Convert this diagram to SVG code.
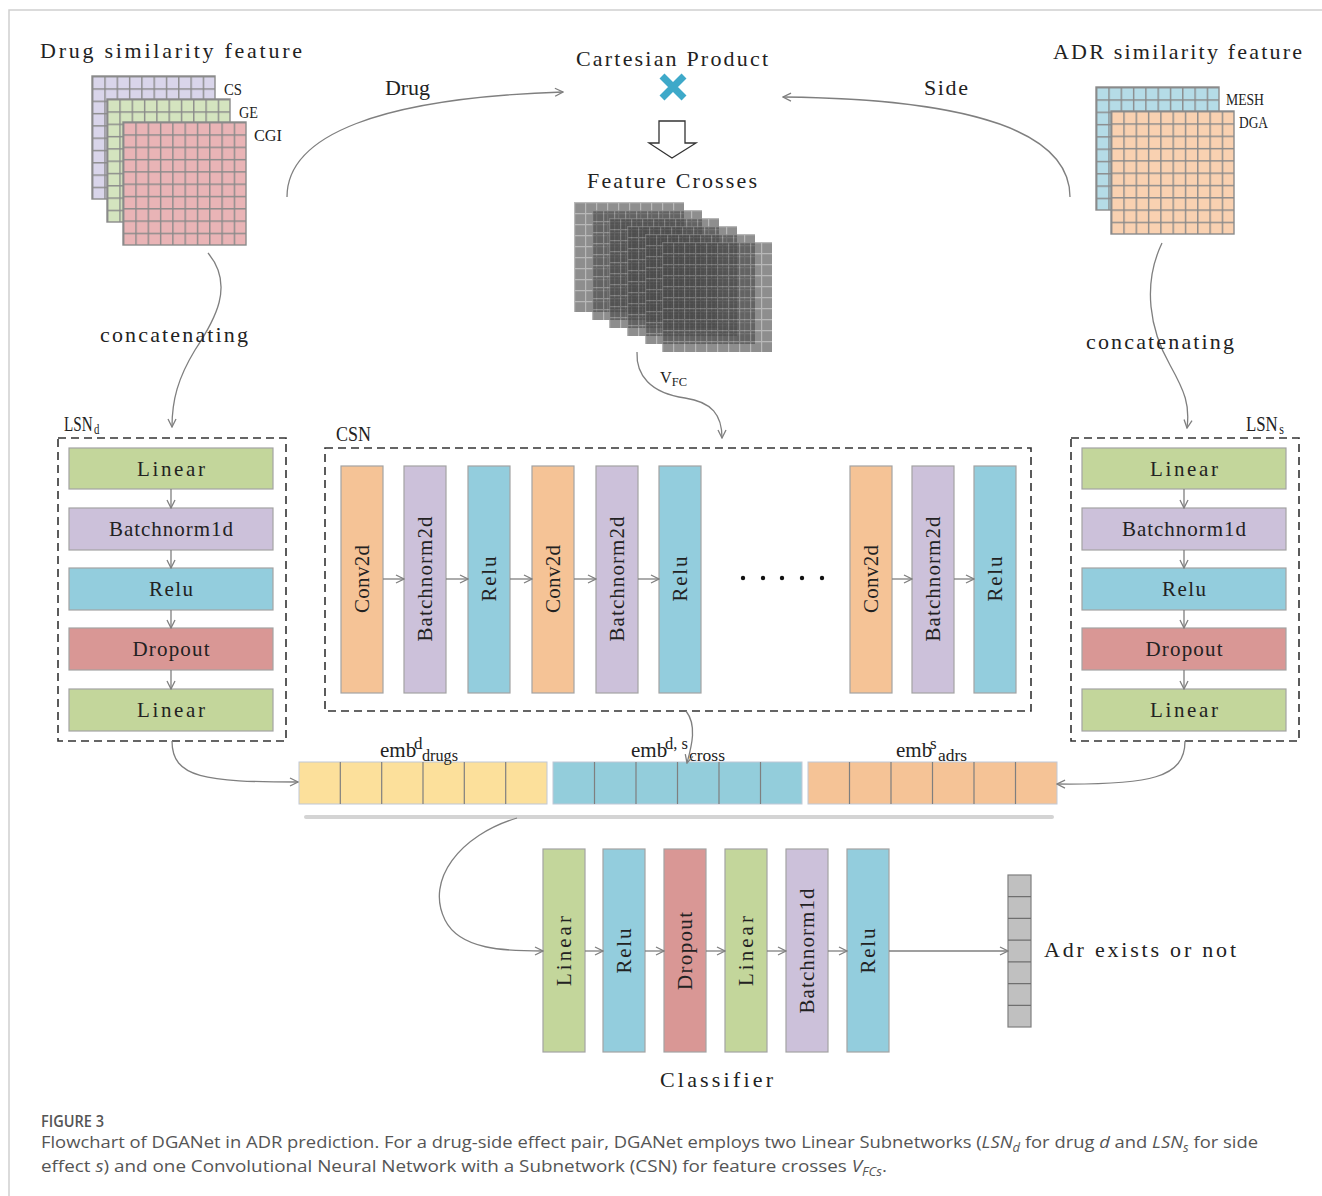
<svg xmlns="http://www.w3.org/2000/svg" width="1322" height="1196" viewBox="0 0 1322 1196">
<style>
.t{font-family:"Liberation Serif",serif;font-size:21px;fill:#222}
.ti{font-family:"Liberation Serif",serif;font-size:22px;fill:#222}
.s{font-family:"Liberation Serif",serif;font-size:17px;fill:#222}
.m{text-anchor:middle}
.bx{stroke:#a3a3a3;stroke-width:1.2}
.gr{fill:#c3d69b}.pu{fill:#ccc1da}.bl{fill:#93cddd}.rd{fill:#d99795}.or{fill:#f5c396}
.c{fill:none;stroke:#7f7f7f;stroke-width:1.3;marker-end:url(#arr)}
.dash{fill:none;stroke:#333;stroke-width:1.6;stroke-dasharray:8,5}
.cap{font-family:"Open Sans",sans-serif;font-size:17px;fill:#555}
</style>
<defs>
<marker id="arr" viewBox="0 0 10 10" refX="9" refY="5" markerWidth="10" markerHeight="10" markerUnits="userSpaceOnUse" orient="auto">
<path d="M1,1 L9,5 L1,9" fill="none" stroke="#7f7f7f" stroke-width="1.3"/>
</marker>
<pattern id="c12" width="12.3" height="12.3" patternUnits="userSpaceOnUse">
<path d="M0.7,0 V12.3 M0,0.7 H12.3" stroke="#8a8a8a" stroke-width="1.4" fill="none"/>
</pattern>
<pattern id="c11" width="11" height="11" patternUnits="userSpaceOnUse">
<path d="M0.6,0 V11 M0,0.6 H11" stroke="#8e8e8e" stroke-width="1.2" fill="none"/>
</pattern>
</defs>

<path d="M9,1196 V10 H1322" fill="none" stroke="#cfcfcf" stroke-width="1.5"/>

<!-- Drug similarity feature -->
<g id="drug-features">
<text class="ti" x="40" y="58" textLength="262" lengthAdjust="spacing">Drug similarity feature</text>
<g transform="translate(92,76)"><rect width="123" height="123" fill="#d9d5ea"/><rect width="123" height="123" fill="url(#c12)"/><rect width="123" height="123" fill="none" stroke="#8a8a8a" stroke-width="1.4"/></g>
<g transform="translate(107,99)"><rect width="123" height="123" fill="#d4e4bf"/><rect width="123" height="123" fill="url(#c12)"/><rect width="123" height="123" fill="none" stroke="#8a8a8a" stroke-width="1.4"/></g>
<g transform="translate(123,122)"><rect width="123" height="123" fill="#e9b4b6"/><rect width="123" height="123" fill="url(#c12)"/><rect width="123" height="123" fill="none" stroke="#8a8a8a" stroke-width="1.4"/></g>
<text class="s" x="224" y="95" textLength="18" lengthAdjust="spacingAndGlyphs">CS</text>
<text class="s" x="239" y="118" textLength="19" lengthAdjust="spacingAndGlyphs">GE</text>
<text class="s" x="254" y="141" textLength="28" lengthAdjust="spacingAndGlyphs">CGI</text>
</g>

<!-- ADR similarity feature -->
<g id="adr-features">
<text class="ti" x="1053" y="59" textLength="249" lengthAdjust="spacing">ADR similarity feature</text>
<g transform="translate(1096,87)"><rect width="123" height="123" fill="#b5dce7"/><rect width="123" height="123" fill="url(#c12)"/><rect width="123" height="123" fill="none" stroke="#8a8a8a" stroke-width="1.4"/></g>
<g transform="translate(1111,111)"><rect width="123" height="123" fill="#f9d1b1"/><rect width="123" height="123" fill="url(#c12)"/><rect width="123" height="123" fill="none" stroke="#8a8a8a" stroke-width="1.4"/></g>
<text class="s" x="1226" y="105" textLength="38" lengthAdjust="spacingAndGlyphs">MESH</text>
<text class="s" x="1239" y="128" textLength="29" lengthAdjust="spacingAndGlyphs">DGA</text>
</g>

<!-- Cartesian product -->
<g id="cartesian">
<text class="ti" x="576" y="66" textLength="192" lengthAdjust="spacing">Cartesian Product</text>
<path d="M662,76 L684,98 M684,76 L662,98" stroke="#3ea9c9" stroke-width="7"/>
<polygon points="659,121 685,121 685,143 696,143 672,158 649,143 659,143" fill="#fff" stroke="#333" stroke-width="1.3"/>
</g>

<!-- Feature crosses -->
<g id="feature-crosses">
<text class="ti" x="587" y="188" textLength="170" lengthAdjust="spacing">Feature Crosses</text>
<g transform="translate(574,202)" opacity="0.62"><rect width="110" height="110" fill="#4a4a4a"/><rect width="110" height="110" fill="url(#c11)"/></g>
<g transform="translate(592,210)" opacity="0.62"><rect width="110" height="110" fill="#4a4a4a"/><rect width="110" height="110" fill="url(#c11)"/></g>
<g transform="translate(609,218)" opacity="0.62"><rect width="110" height="110" fill="#4a4a4a"/><rect width="110" height="110" fill="url(#c11)"/></g>
<g transform="translate(627,226)" opacity="0.62"><rect width="110" height="110" fill="#4a4a4a"/><rect width="110" height="110" fill="url(#c11)"/></g>
<g transform="translate(645,234)" opacity="0.62"><rect width="110" height="110" fill="#4a4a4a"/><rect width="110" height="110" fill="url(#c11)"/></g>
<g transform="translate(662,242)" opacity="0.62"><rect width="110" height="110" fill="#4a4a4a"/><rect width="110" height="110" fill="url(#c11)"/></g>
<text class="s" x="660" y="383" font-size="19" textLength="27" lengthAdjust="spacingAndGlyphs">V<tspan font-size="13" dy="3">FC</tspan></text>
</g>

<!-- LSNd -->
<g id="lsn-d">
<text class="t" transform="translate(64,431) scale(0.72,1)" font-size="22">LSN<tspan font-size="15" dx="2" dy="3">d</tspan></text>
<rect class="dash" x="58" y="438" width="228" height="303"/>
<rect class="bx gr" x="69" y="448" width="204" height="41"/>
<rect class="bx pu" x="69" y="508" width="204" height="42"/>
<rect class="bx bl" x="69" y="568" width="204" height="42"/>
<rect class="bx rd" x="69" y="628" width="204" height="42"/>
<rect class="bx gr" x="69" y="689" width="204" height="42"/>
<text class="t m" x="171" y="476" textLength="68" lengthAdjust="spacing">Linear</text>
<text class="t m" x="171" y="536" textLength="124" lengthAdjust="spacing">Batchnorm1d</text>
<text class="t m" x="171" y="596" textLength="44" lengthAdjust="spacing">Relu</text>
<text class="t m" x="171" y="656" textLength="77" lengthAdjust="spacing">Dropout</text>
<text class="t m" x="171" y="717" textLength="68" lengthAdjust="spacing">Linear</text>
</g>

<!-- LSNs -->
<g id="lsn-s">
<text class="t" transform="translate(1246,431) scale(0.8,1)" font-size="22">LSN<tspan font-size="15" dx="2" dy="3">s</tspan></text>
<rect class="dash" x="1071" y="438" width="228" height="303"/>
<rect class="bx gr" x="1082" y="448" width="204" height="41"/>
<rect class="bx pu" x="1082" y="508" width="204" height="42"/>
<rect class="bx bl" x="1082" y="568" width="204" height="42"/>
<rect class="bx rd" x="1082" y="628" width="204" height="42"/>
<rect class="bx gr" x="1082" y="689" width="204" height="42"/>
<text class="t m" x="1184" y="476" textLength="68" lengthAdjust="spacing">Linear</text>
<text class="t m" x="1184" y="536" textLength="124" lengthAdjust="spacing">Batchnorm1d</text>
<text class="t m" x="1184" y="596" textLength="44" lengthAdjust="spacing">Relu</text>
<text class="t m" x="1184" y="656" textLength="77" lengthAdjust="spacing">Dropout</text>
<text class="t m" x="1184" y="717" textLength="68" lengthAdjust="spacing">Linear</text>
</g>

<!-- CSN -->
<g id="csn">
<text class="t" x="336" y="441" textLength="35" lengthAdjust="spacingAndGlyphs">CSN</text>
<rect class="dash" x="325" y="448" width="706" height="263"/>
<rect class="bx or" x="341" y="466" width="42" height="227"/>
<rect class="bx pu" x="404" y="466" width="42" height="227"/>
<rect class="bx bl" x="468" y="466" width="42" height="227"/>
<rect class="bx or" x="532" y="466" width="42" height="227"/>
<rect class="bx pu" x="596" y="466" width="42" height="227"/>
<rect class="bx bl" x="659" y="466" width="42" height="227"/>
<rect class="bx or" x="850" y="466" width="42" height="227"/>
<rect class="bx pu" x="912" y="466" width="42" height="227"/>
<rect class="bx bl" x="974" y="466" width="42" height="227"/>
<text class="t m" transform="translate(369,579) rotate(-90)" textLength="68" lengthAdjust="spacing">Conv2d</text>
<text class="t m" transform="translate(432,579) rotate(-90)" textLength="125" lengthAdjust="spacing">Batchnorm2d</text>
<text class="t m" transform="translate(496,579) rotate(-90)" textLength="45" lengthAdjust="spacing">Relu</text>
<text class="t m" transform="translate(560,579) rotate(-90)" textLength="68" lengthAdjust="spacing">Conv2d</text>
<text class="t m" transform="translate(624,579) rotate(-90)" textLength="125" lengthAdjust="spacing">Batchnorm2d</text>
<text class="t m" transform="translate(687,579) rotate(-90)" textLength="45" lengthAdjust="spacing">Relu</text>
<text class="t m" transform="translate(878,579) rotate(-90)" textLength="68" lengthAdjust="spacing">Conv2d</text>
<text class="t m" transform="translate(940,579) rotate(-90)" textLength="125" lengthAdjust="spacing">Batchnorm2d</text>
<text class="t m" transform="translate(1002,579) rotate(-90)" textLength="45" lengthAdjust="spacing">Relu</text>
<g fill="#111"><circle cx="743" cy="578" r="2.2"/><circle cx="763" cy="578" r="2.2"/><circle cx="782" cy="578" r="2.2"/><circle cx="802" cy="578" r="2.2"/><circle cx="822" cy="578" r="2.2"/></g>
</g>

<!-- Embedding bar -->
<g id="embedding">
<rect x="299" y="762" width="248" height="42" fill="#fce09b" stroke="#c0c8d6" stroke-width="1"/>
<rect x="553" y="762" width="249" height="42" fill="#93cddb" stroke="#c0c8d6" stroke-width="1"/>
<rect x="808" y="762" width="249" height="42" fill="#f5c396" stroke="#c0c8d6" stroke-width="1"/>
<path d="M340.3,762 V804 M381.7,762 V804 M423,762 V804 M464.3,762 V804 M505.7,762 V804 M594.5,762 V804 M636,762 V804 M677.5,762 V804 M719,762 V804 M760.5,762 V804 M849.5,762 V804 M891,762 V804 M932.5,762 V804 M974,762 V804 M1015.5,762 V804" stroke="#7f7f7f" stroke-width="1.2"/>
<rect x="304" y="815" width="750" height="4" rx="2" fill="#d4d4d4"/>
<text class="t" x="380" y="757" font-size="20">emb</text>
<text class="s" x="414" y="749" font-size="15">d</text>
<text class="s" x="422" y="761" font-size="15" textLength="36" lengthAdjust="spacingAndGlyphs">drugs</text>
<text class="t" x="631" y="757" font-size="20">emb</text>
<text class="s" x="665" y="749" font-size="15" textLength="23" lengthAdjust="spacingAndGlyphs">d, s</text>
<text class="s" x="689" y="761" font-size="15" textLength="36" lengthAdjust="spacingAndGlyphs">cross</text>
<text class="t" x="896" y="757" font-size="20">emb</text>
<text class="s" x="930" y="749" font-size="15">s</text>
<text class="s" x="938" y="761" font-size="15" textLength="29" lengthAdjust="spacingAndGlyphs">adrs</text>
</g>

<!-- Classifier -->
<g id="classifier">
<rect class="bx gr" x="543" y="849" width="42" height="203"/>
<rect class="bx bl" x="603" y="849" width="42" height="203"/>
<rect class="bx rd" x="664" y="849" width="42" height="203"/>
<rect class="bx gr" x="725" y="849" width="42" height="203"/>
<rect class="bx pu" x="786" y="849" width="42" height="203"/>
<rect class="bx bl" x="847" y="849" width="42" height="203"/>
<text class="t m" transform="translate(571,951) rotate(-90)" textLength="70" lengthAdjust="spacing">Linear</text>
<text class="t m" transform="translate(631,951) rotate(-90)" textLength="45" lengthAdjust="spacing">Relu</text>
<text class="t m" transform="translate(692,951) rotate(-90)" textLength="78" lengthAdjust="spacing">Dropout</text>
<text class="t m" transform="translate(753,951) rotate(-90)" textLength="70" lengthAdjust="spacing">Linear</text>
<text class="t m" transform="translate(814,951) rotate(-90)" textLength="125" lengthAdjust="spacing">Batchnorm1d</text>
<text class="t m" transform="translate(875,951) rotate(-90)" textLength="45" lengthAdjust="spacing">Relu</text>
<text class="ti" x="660" y="1087" textLength="113" lengthAdjust="spacing">Classifier</text>
</g>

<!-- Output -->
<g id="output">
<rect x="1008" y="875" width="23" height="152" fill="#c0c0c0" stroke="#7f7f7f" stroke-width="1.2"/>
<path d="M1008,896.7 H1031 M1008,918.4 H1031 M1008,940.1 H1031 M1008,961.9 H1031 M1008,983.6 H1031 M1008,1005.3 H1031" stroke="#6f6f6f" stroke-width="1.2"/>
<text class="ti" x="1044" y="957" textLength="192" lengthAdjust="spacing">Adr exists or not</text>
</g>

<!-- Connectors -->
<g id="connectors">
<path class="c" d="M287,197 C287,135 380,98 563,92"/>
<path class="c" d="M1070,197 C1070,135 980,99 783,97"/>
<path class="c" d="M208,253 C235,285 215,320 195,350 C178,378 172,400 172,427"/>
<path class="c" d="M1162,243 C1142,285 1150,330 1170,365 C1185,392 1190,405 1187,428"/>
<path class="c" d="M637,352 C636,375 650,393 685,398 C712,402 722,415 722,438"/>
<path class="c" d="M171,489 V508"/>
<path class="c" d="M171,550 V568"/>
<path class="c" d="M171,610 V628"/>
<path class="c" d="M171,670 V689"/>
<path class="c" d="M1184,489 V508"/>
<path class="c" d="M1184,550 V568"/>
<path class="c" d="M1184,610 V628"/>
<path class="c" d="M1184,670 V689"/>
<path class="c" d="M383,579 H404"/>
<path class="c" d="M446,579 H468"/>
<path class="c" d="M510,579 H532"/>
<path class="c" d="M574,579 H596"/>
<path class="c" d="M638,579 H659"/>
<path class="c" d="M892,579 H912"/>
<path class="c" d="M954,579 H974"/>
<path class="c" d="M686,711 C697,725 692,745 687,763"/>
<path class="c" d="M172,741 C172,778 205,782 298,782"/>
<path class="c" d="M1185,741 C1185,778 1150,785 1057,784"/>
<path class="c" d="M517,818 C460,835 425,880 445,920 C460,950 505,951 543,951"/>
<path class="c" d="M585,951 H603"/>
<path class="c" d="M645,951 H664"/>
<path class="c" d="M706,951 H725"/>
<path class="c" d="M767,951 H786"/>
<path class="c" d="M828,951 H847"/>
<path class="c" d="M889,951 H1008"/>
<text class="ti" x="385" y="95" textLength="45" lengthAdjust="spacing">Drug</text>
<text class="ti" x="924" y="95" textLength="44" lengthAdjust="spacing">Side</text>
<text class="ti" x="100" y="342" textLength="148" lengthAdjust="spacing">concatenating</text>
<text class="ti" x="1086" y="349" textLength="148" lengthAdjust="spacing">concatenating</text>
</g>

<!-- Caption -->
<g id="caption">
<text class="cap" x="41" y="1127" font-size="13" font-weight="600" textLength="63" lengthAdjust="spacingAndGlyphs">FIGURE 3</text>
<text class="cap" x="41" y="1148" textLength="1217" lengthAdjust="spacingAndGlyphs">Flowchart of DGANet in ADR prediction. For a drug-side effect pair, DGANet employs two Linear Subnetworks (<tspan font-style="italic">LSN</tspan><tspan font-style="italic" font-size="12" dy="4">d</tspan><tspan dy="-4"> for drug </tspan><tspan font-style="italic">d</tspan> and <tspan font-style="italic">LSN</tspan><tspan font-style="italic" font-size="12" dy="4">s</tspan><tspan dy="-4"> for side</tspan></text>
<text class="cap" x="41" y="1172" textLength="846" lengthAdjust="spacingAndGlyphs">effect <tspan font-style="italic">s</tspan>) and one Convolutional Neural Network with a Subnetwork (CSN) for feature crosses <tspan font-style="italic">V</tspan><tspan font-style="italic" font-size="12" dy="4">FCs</tspan><tspan dy="-4">.</tspan></text>
</g>
</svg>
